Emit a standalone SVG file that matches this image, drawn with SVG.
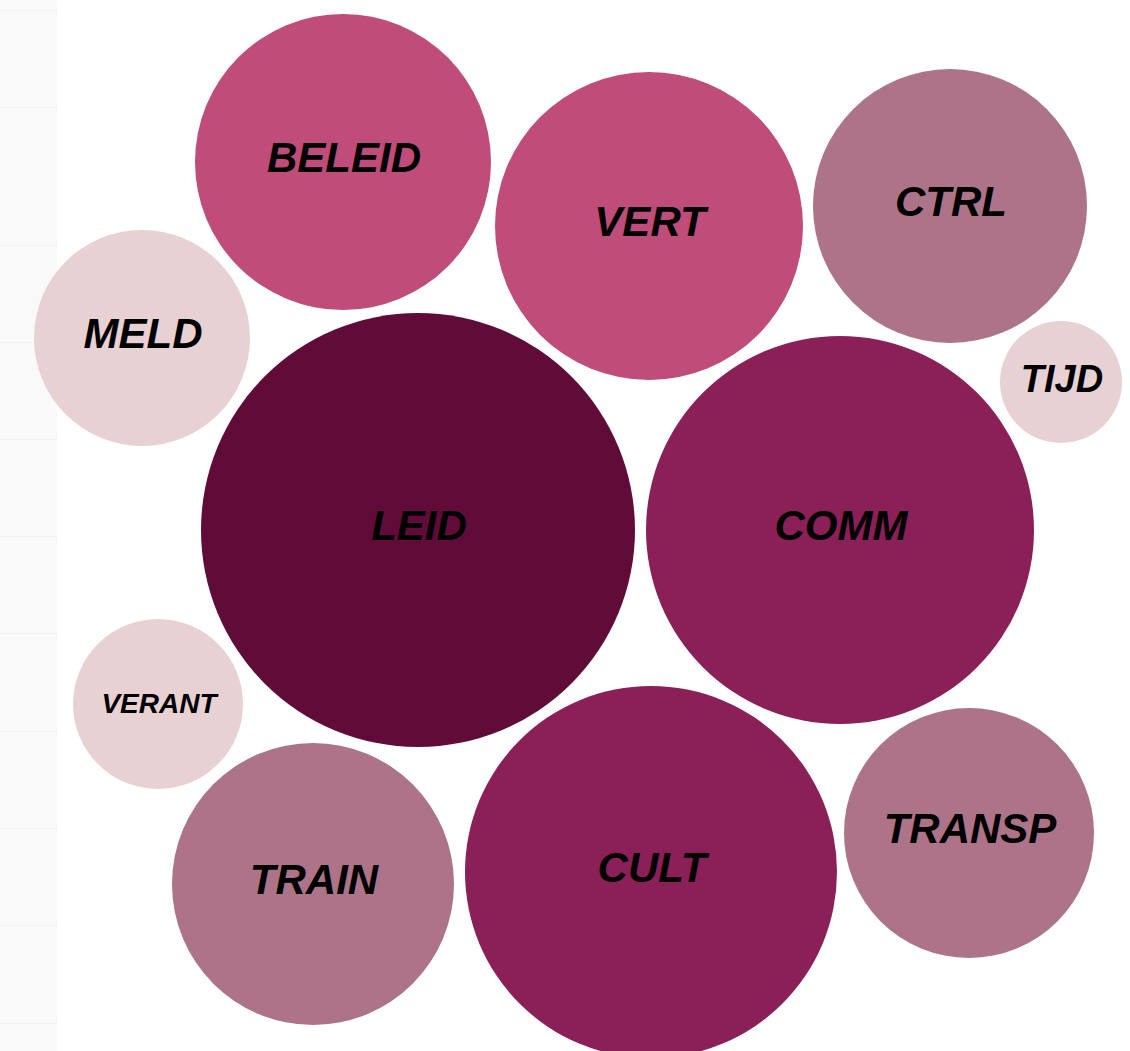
<svg xmlns="http://www.w3.org/2000/svg" width="1130" height="1051" viewBox="0 0 1130 1051">
<style>
.lbl{font-family:"Liberation Sans",Arial,sans-serif;font-weight:bold;font-style:italic;font-size:42px;fill:#000;text-anchor:middle}
.grid{stroke:#f1f1f1;stroke-width:1}
.c1{fill:#c04c7a}.c2{fill:#ad7489}.c3{fill:#e8d1d3}.c4{fill:#600b38}.c5{fill:#8b1f57}
</style>
<rect x="0" y="0" width="1130" height="1051" fill="#ffffff"/>
<g id="strip">
<rect x="0" y="0" width="57" height="1051" fill="#f9f9f9"/>
<g class="grid">
<line x1="0" y1="10.5" x2="57" y2="10.5"/><line x1="0" y1="107.5" x2="57" y2="107.5"/><line x1="0" y1="245.5" x2="57" y2="245.5"/><line x1="0" y1="342.5" x2="57" y2="342.5"/><line x1="0" y1="439.5" x2="57" y2="439.5"/><line x1="0" y1="536.5" x2="57" y2="536.5"/><line x1="0" y1="633.5" x2="57" y2="633.5"/><line x1="0" y1="731.5" x2="57" y2="731.5"/><line x1="0" y1="828.5" x2="57" y2="828.5"/><line x1="0" y1="925.5" x2="57" y2="925.5"/><line x1="0" y1="1023.5" x2="57" y2="1023.5"/>
</g>
</g>
<g id="connectors"></g>
<g id="BELEID"><circle class="c1" cx="343" cy="162" r="148"/><text class="lbl" x="344" y="172">BELEID</text></g>
<g id="VERT"><circle class="c1" cx="649" cy="226" r="154"/><text class="lbl" x="650" y="236">VERT</text></g>
<g id="CTRL"><circle class="c2" cx="950" cy="206" r="137"/><text class="lbl" x="951" y="216">CTRL</text></g>
<g id="MELD"><circle class="c3" cx="142" cy="338" r="108"/><text class="lbl" x="143" y="348">MELD</text></g>
<g id="TIJD"><circle class="c3" cx="1061" cy="382" r="61"/><text class="lbl" x="1062" y="392" style="font-size:38px">TIJD</text></g>
<g id="LEID"><circle class="c4" cx="418" cy="530" r="217"/><text class="lbl" x="419" y="540">LEID</text></g>
<g id="COMM"><circle class="c5" cx="840" cy="530" r="194"/><text class="lbl" x="841" y="540">COMM</text></g>
<g id="VERANT"><circle class="c3" cx="158" cy="704" r="85"/><text class="lbl" x="159" y="713" style="font-size:28px">VERANT</text></g>
<g id="TRAIN"><circle class="c2" cx="313" cy="884" r="141"/><text class="lbl" x="314" y="894">TRAIN</text></g>
<g id="CULT"><circle class="c5" cx="651" cy="872" r="186"/><text class="lbl" x="652" y="882">CULT</text></g>
<g id="TRANSP"><circle class="c2" cx="969" cy="833" r="125"/><text class="lbl" x="970" y="843">TRANSP</text></g>
</svg>
